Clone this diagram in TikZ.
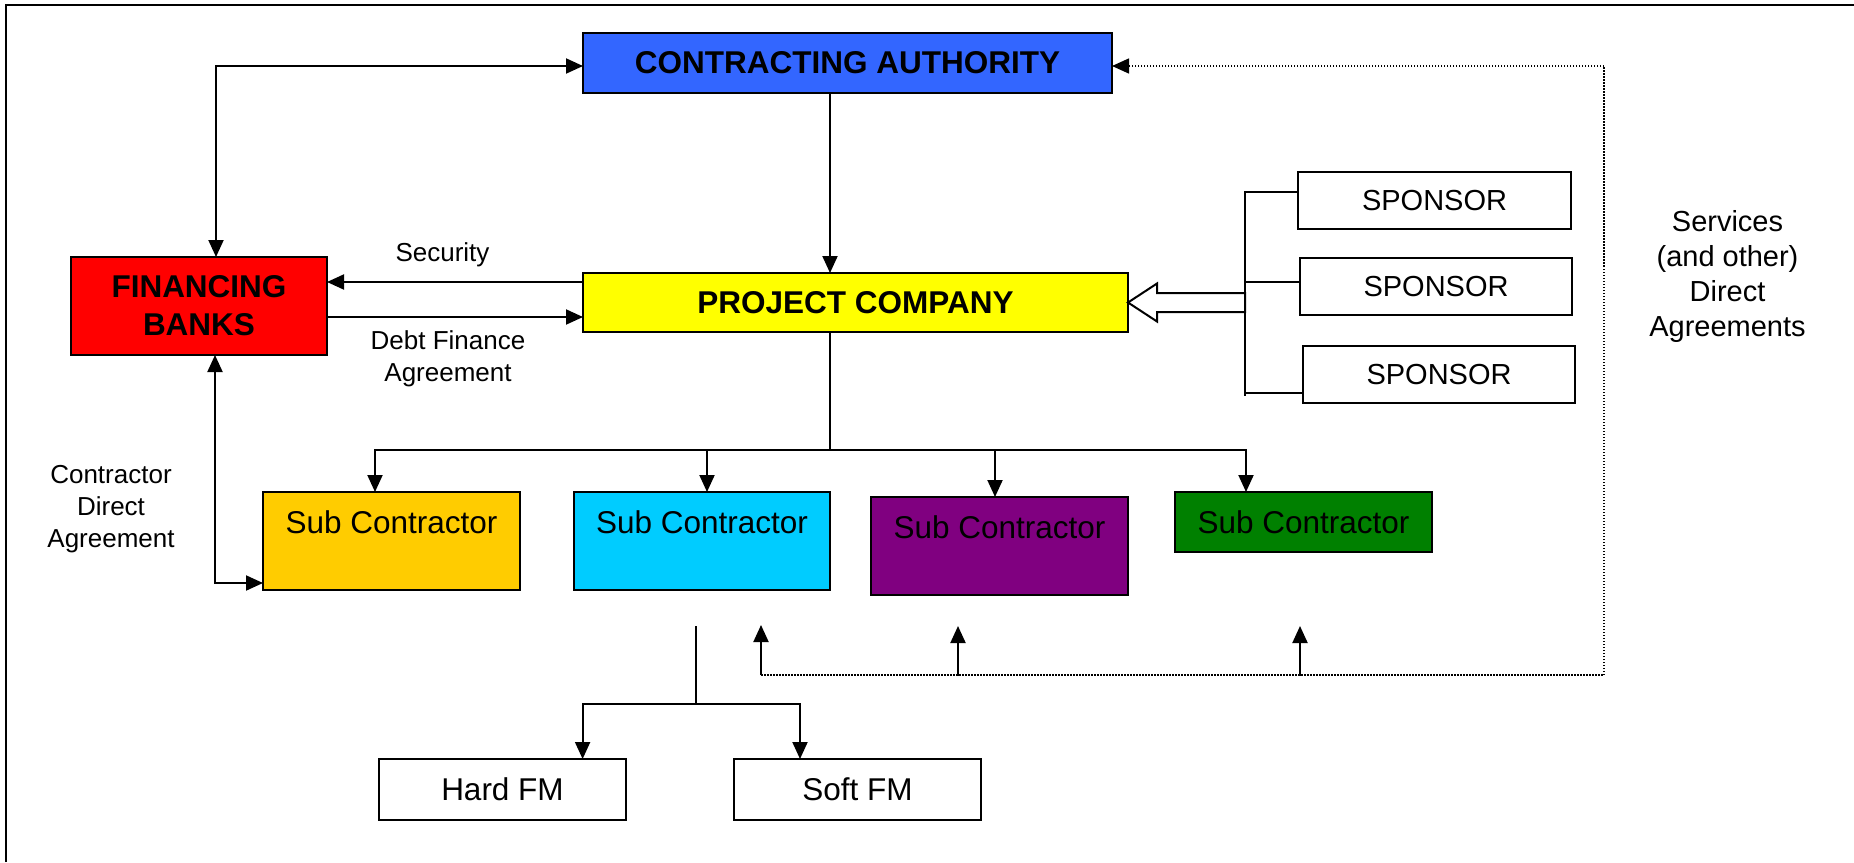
\documentclass[tikz,border=0pt]{standalone}
\usepackage{fontspec}
\setmainfont{Liberation Sans}
\usetikzlibrary{arrows.meta,calc}
\definecolor{cablue}{RGB}{51,102,255}
\definecolor{pcyellow}{RGB}{255,255,0}
\definecolor{fbred}{RGB}{255,0,0}
\definecolor{suborange}{RGB}{255,204,0}
\definecolor{subcyan}{RGB}{0,204,255}
\definecolor{subpurple}{RGB}{128,0,128}
\definecolor{subgreen}{RGB}{0,128,0}
\begin{document}
\begin{tikzpicture}[x=1pt,y=-1pt,
  box/.style={draw=black, line width=2pt, inner sep=0pt, outer sep=0pt, align=center},
  headfont/.style={font=\bfseries\fontsize{31.5}{38}\selectfont},
  subfont/.style={font=\fontsize{31.5}{38}\selectfont},
  spfont/.style={font=\fontsize{29}{35}\selectfont},
  lblsmall/.style={font=\fontsize{26}{32}\selectfont, align=center, inner sep=0pt},
  lblbig/.style={font=\fontsize{29}{35}\selectfont, align=center, inner sep=0pt},
  ln/.style={line width=2pt},
  arr/.style={line width=2pt, -{Triangle[length=17pt,width=15pt]}},
  darr/.style={line width=2pt, {Triangle[length=17pt,width=15pt]}-{Triangle[length=17pt,width=15pt]}},
  dotline/.style={line width=1.5pt, dash pattern=on 1.5pt off 1.5pt}
]
\useasboundingbox (0,0) rectangle (1854,862);
% frame (top and left only)
\draw[line width=2.5pt] (6,862) -- (6,5) -- (1854,5);

% main boxes
\node[box, headfont, fill=cablue, minimum width=529pt, minimum height=60pt] (ca) at (847.5,63) {CONTRACTING AUTHORITY};
\node[box, headfont, fill=pcyellow, minimum width=545pt, minimum height=59pt] (pc) at (855.5,302.5) {PROJECT COMPANY};
\node[box, headfont, fill=fbred, minimum width=256pt, minimum height=98pt] (fb) at (199,306) {FINANCING\\BANKS};

% sub contractors
\node[box, fill=suborange, minimum width=257pt, minimum height=98pt] (s1) at (391.5,541) {};
\node[box, fill=subcyan, minimum width=256pt, minimum height=98pt] (s2) at (702,541) {};
\node[box, fill=subpurple, minimum width=257pt, minimum height=98pt] (s3) at (999.5,546) {};
\node[box, fill=subgreen, minimum width=257pt, minimum height=60pt] (s4) at (1303.5,522) {};
\node[subfont, inner sep=0pt] (s1t) at (391.5,522.7) {Sub Contractor};
\node[subfont, inner sep=0pt] (s2t) at (702,522.7) {Sub Contractor};
\node[subfont, inner sep=0pt] (s3t) at (999.5,527.7) {Sub Contractor};
\node[subfont, inner sep=0pt] (s4t) at (1303.5,522.7) {Sub Contractor};

% sponsors
\node[box, spfont, minimum width=273pt, minimum height=57pt] (sp1) at (1434.5,200.5) {SPONSOR};
\node[box, spfont, minimum width=272pt, minimum height=57pt] (sp2) at (1436,286.5) {SPONSOR};
\node[box, spfont, minimum width=272pt, minimum height=57pt] (sp3) at (1439,374.5) {SPONSOR};

% FM boxes
\node[box, subfont, minimum width=247pt, minimum height=61pt] (hfm) at (502.5,789.5) {Hard FM};
\node[box, subfont, minimum width=247pt, minimum height=61pt] (sfm) at (857.5,789.5) {Soft FM};

% labels
\node[lblsmall] (sec) at (442.5,255) {Security};
\node[lblsmall] (debt) at (448,358.4) {Debt Finance\\Agreement};
\node[lblsmall] (cda) at (111,509) {Contractor\\Direct\\Agreement};
\node[lblbig] (svc) at (1727.5,276.5) {Services\\(and other)\\Direct\\Agreements};

% financing banks connectors
\draw[darr] ([xshift=17pt]fb.north) |- ([yshift=-3pt]ca.west);
\draw[darr] ([xshift=16pt]fb.south) |- ([yshift=7pt]s1.south west);
\coordinate (secP) at ([yshift=20.5pt]pc.west);
\coordinate (debP) at ([yshift=-14.5pt]pc.west);
\draw[arr] (secP) -- (secP -| fb.east);
\draw[arr] (debP -| fb.east) -- (debP);

% trunk and bus
\coordinate (tr) at (830,450);
\draw[arr] (tr |- ca.south) -- (tr |- pc.north);
\draw[ln] (tr |- pc.south) -- (tr);
\coordinate (b1) at (375,450);
\coordinate (b2) at (707,450);
\coordinate (b3) at (995,450);
\coordinate (b4) at (1246,450);
\draw[arr] (tr) -| (b1 |- s1.north);
\draw[arr] (tr) -| (b4 |- s4.north);
\draw[arr] (b2) -- (b2 |- s2.north);
\draw[arr] (b3) -- (b3 |- s3.north);

% sponsors
\coordinate (bar1) at (1245,192);
\coordinate (bar2) at (1245,282);
\coordinate (bar3) at (1245,393);
\coordinate (barEnd) at (1245,396);
\draw[ln] (bar1 -| sp1.west) -- (bar1) -- (barEnd);
\draw[ln] (bar2) -- (bar2 -| sp2.west);
\draw[ln] (bar3) -- (bar3 -| sp3.west);
\draw[ln, fill=white, line join=miter] (pc.east) -- ++(29,-19) -- ++(0,9.5) -- ++(88,0) -- ++(0,19) -- ++(-88,0) -- ++(0,9.5) -- cycle;

% FM
\coordinate (fmtop) at (695.5,626);
\coordinate (fmj) at (695.5,704);
\coordinate (h1) at (582.6,704);
\coordinate (h2) at (800,704);
\draw[ln] (fmtop) -- (fmj);
\draw[arr] (fmj) -| (h1 |- hfm.north);
\draw[arr] (fmj) -| (h2 |- sfm.north);

% services direct agreements
\coordinate (v1) at (761,675);
\coordinate (v2) at (958,676);
\coordinate (v3) at (1300,676);
\coordinate (vc) at (1604,675);
\coordinate (ctop) at ([yshift=-3pt]ca.east);
\draw[dotline, -{Triangle[length=17pt,width=15pt]}] (v1) -- (vc) |- (ctop);
\draw[arr] (v1) -- ++(0,-50);
\draw[arr] (v2) -- ++(0,-50);
\draw[arr] (v3) -- ++(0,-50);
\end{tikzpicture}
\end{document}
